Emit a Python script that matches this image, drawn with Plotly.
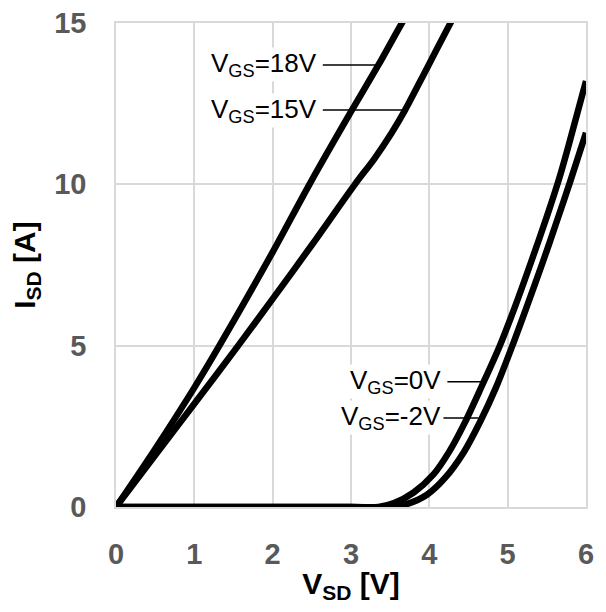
import plotly.graph_objects as go

# ---- data ----
vsd_18 = [0, 0.5, 1.0, 1.32, 2.0, 2.47, 3.0, 3.35, 3.65, 3.75]
isd_18 = [0, 1.8, 3.7, 5.0, 7.9, 10.0, 12.25, 13.7, 15.0, 15.4]

vsd_15 = [0, 0.5, 1.0, 1.56, 2.0, 2.5, 3.05, 3.3, 3.52, 3.69, 3.97, 4.27, 4.36]
isd_15 = [0, 1.6, 3.2, 5.0, 6.45, 8.12, 10.0, 10.8, 11.6, 12.3, 13.6, 15.0, 15.4]

vsd_0 = [0, 1, 2, 3, 3.35, 3.55, 3.8, 4.05, 4.25, 4.45, 4.67, 4.9, 5.1, 5.3, 5.5, 5.66, 5.8, 6.0]
isd_0 = [0, 0, 0, 0, 0, 0.12, 0.45, 1.0, 1.7, 2.6, 3.75, 5.0, 6.25, 7.6, 9.0, 10.2, 11.4, 13.2]

vsd_m2 = [0, 1, 2, 3, 3.5, 3.7, 3.97, 4.2, 4.44, 4.65, 4.85, 5.06, 5.25, 5.45, 5.62, 5.8, 6.0]
isd_m2 = [0, 0, 0, 0, 0, 0.08, 0.38, 0.9, 1.7, 2.65, 3.7, 5.0, 6.25, 7.6, 8.8, 10.1, 11.6]

x_ticks = [0, 1, 2, 3, 4, 5, 6]
y_ticks = [0, 5, 10, 15]

# labels: text, text right-edge x, y, leader start x, leader end x
label_text = ["V<sub>GS</sub>=18V", "V<sub>GS</sub>=15V", "V<sub>GS</sub>=0V", "V<sub>GS</sub>=-2V"]
label_x = [2.58, 2.58, 4.16, 4.16]
label_y = [13.7, 12.3, 3.88, 2.76]
leader_x0 = [2.64, 2.64, 4.23, 4.18]
leader_x1 = [3.33, 3.69, 4.67, 4.63]

FONT = "Liberation Sans, Arial, sans-serif"

fig = go.Figure()
for xs, ys in [(vsd_18, isd_18), (vsd_15, isd_15), (vsd_0, isd_0), (vsd_m2, isd_m2)]:
    fig.add_trace(go.Scatter(x=xs, y=ys, mode="lines",
                             line=dict(color="black", width=6.5, shape="spline", smoothing=0.9),
                             showlegend=False, hoverinfo="skip"))

for t, lx, ly, x0, x1 in zip(label_text, label_x, label_y, leader_x0, leader_x1):
    fig.add_shape(type="line", x0=x0, x1=x1, y0=ly, y1=ly, xref="x", yref="y",
                  line=dict(color="black", width=1.5), layer="above")
    fig.add_annotation(x=lx, y=ly, text=t, showarrow=False, xanchor="right", yanchor="middle",
                       font=dict(family=FONT, size=26, color="black"),
                       bgcolor="white", borderpad=0)

axis_common = dict(showgrid=True, gridcolor="#d9d9d9", gridwidth=1.5, zeroline=False,
                   showline=True, mirror=True, linecolor="#d9d9d9", linewidth=1.5,
                   ticks="", ticklabeloverflow="allow", automargin=False,
                   tickfont=dict(family=FONT, size=29, color="#595959", weight="bold"))

fig.update_xaxes(range=[0, 6], tickvals=x_ticks, ticklabelstandoff=20,
                 title=dict(text="V<sub>SD</sub> [V]", standoff=16,
                            font=dict(family=FONT, size=30, color="black", weight="bold")),
                 **axis_common)
fig.update_yaxes(range=[0, 15], tickvals=y_ticks, ticklabelstandoff=22,
                 title=dict(text="I<sub>SD</sub> [A]", standoff=10,
                            font=dict(family=FONT, size=30, color="black", weight="bold")),
                 **axis_common)

# page body adds an 8px margin, so the figure is sized to sit inside the window
fig.update_layout(width=590, height=596, margin=dict(l=108, r=12, t=15, b=97),
                  paper_bgcolor="white", plot_bgcolor="white")

fig.write_html("out.html")
